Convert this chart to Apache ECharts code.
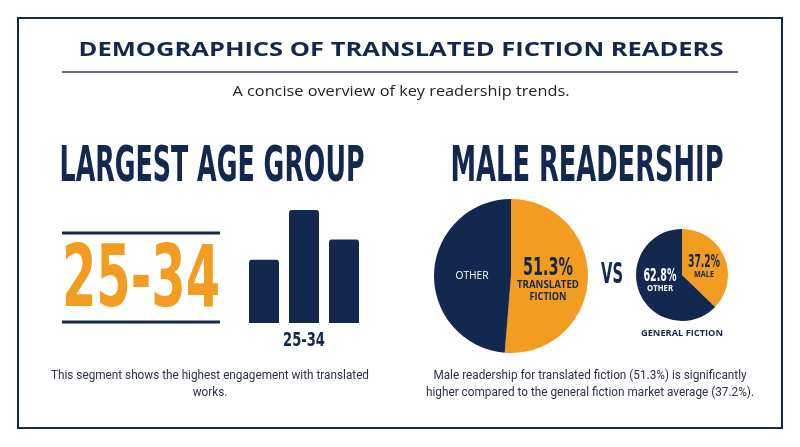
<!DOCTYPE html>
<html>
<head>
<meta charset="UTF-8">
<script src="https://cdn.jsdelivr.net/npm/echarts@6.0.0/dist/echarts.min.js"></script>
<style>
html, body { margin:0; padding:0; background:#fff; }
#chart { width:800px; height:447px; }
</style>
</head>
<body>
<div id="chart"></div>
<script>
// data
const ageGroups = ['18-24', '25-34', '35-44'];
const engagement = [56, 100, 74];
const topGroup = '25-34';
const translatedShare = [51.3, 48.7];   // male, other
const generalShare = [37.2, 62.8];      // male, other

const NAVY = '#12284f';
const ORANGE = '#f29c22';
const COND = "'Liberation Sans Narrow', 'DejaVu Sans Condensed', Roboto, sans-serif";
const WIDE = "'Open Sans', 'Noto Sans', sans-serif";

// no condensed face is installed, so squeeze a line of text to its width in the reference
const ctx = document.createElement('canvas').getContext('2d');
function fit(text, font, width) {
  ctx.font = font;
  return width / ctx.measureText(text).width;
}

function txt(text, x, y, font, fill, width, scale) {
  return {
    type: 'text', x: x, y: y, z: 50, silent: true,
    scaleX: scale || (width ? fit(text, font, width) : 1),
    style: { text: text, font: font, fill: fill, textAlign: 'center', textVerticalAlign: 'middle' }
  };
}

const pct = v => v + '%';
const titleFont = 'bold 20px ' + WIDE;
const headFont = 'bold 50px ' + COND;
const bodyFont = '13px Roboto, sans-serif';
const leftNote = ['This segment shows the highest engagement with translated', 'works.'];
const rightNote = ['Male readership for translated fiction (51.3%) is significantly',
  'higher compared to the general fiction market average (37.2%).'];
const leftScale = fit(leftNote[0], bodyFont, 318);
const rightScale = fit(rightNote[1], bodyFont, 328);

function graphics(barLabelX) {
  const g = [
    { type: 'rect', shape: { x: 18, y: 18, width: 764, height: 410 },
      style: { fill: 'none', stroke: NAVY, lineWidth: 2 } },
    txt('DEMOGRAPHICS OF TRANSLATED FICTION READERS', 401, 50, titleFont, NAVY, 645),
    { type: 'line', shape: { x1: 62, y1: 72, x2: 738, y2: 72 },
      style: { stroke: '#33425f', lineWidth: 1.5 } },
    txt('A concise overview of key readership trends.', 401, 92, '15px ' + WIDE, '#222', 337),
    txt('LARGEST AGE GROUP', 212, 168, headFont, NAVY, 305),
    txt('MALE READERSHIP', 587, 168, headFont, NAVY, 273),
    { type: 'line', shape: { x1: 62, y1: 233, x2: 220, y2: 233 },
      style: { stroke: NAVY, lineWidth: 3 } },
    txt(topGroup, 141, 284, 'bold 86px ' + COND, ORANGE, 158),
    { type: 'line', shape: { x1: 62, y1: 322, x2: 220, y2: 322 },
      style: { stroke: NAVY, lineWidth: 3 } },
    // translated fiction pie labels
    txt('OTHER', 472, 276, '10px ' + WIDE, '#fff', 33),
    txt(pct(translatedShare[0]), 548, 268, 'bold 25px ' + COND, NAVY, 50),
    txt('TRANSLATED', 548, 285, 'bold 10.5px ' + WIDE, NAVY, 62),
    txt('FICTION', 548, 297, 'bold 10.5px ' + WIDE, NAVY, 37),
    txt('VS', 612, 276, 'bold 28px ' + COND, NAVY, 22),
    // general fiction pie labels
    txt(pct(generalShare[0]), 704, 263, 'bold 17px ' + COND, NAVY, 32),
    txt('MALE', 704, 275, 'bold 8.5px ' + WIDE, NAVY, 20),
    txt(pct(generalShare[1]), 660, 277, 'bold 17px ' + COND, '#fff', 33),
    txt('OTHER', 660, 289, 'bold 8.5px ' + WIDE, '#fff', 26),
    txt('GENERAL FICTION', 682, 333, 'bold 9.5px ' + WIDE, NAVY, 82),
    txt(leftNote[0], 210, 376, bodyFont, '#2b3345', 0, leftScale),
    txt(leftNote[1], 210, 393, bodyFont, '#2b3345', 0, leftScale),
    txt(rightNote[0], 590, 376, bodyFont, '#2b3345', 0, rightScale),
    txt(rightNote[1], 590, 393, bodyFont, '#2b3345', 0, rightScale)
  ];
  if (barLabelX != null) g.push(txt(topGroup, barLabelX, 341, 'bold 20px ' + COND, NAVY, 42));
  return g;
}

const chart = echarts.init(document.getElementById('chart'));
chart.setOption({
  animation: false,
  backgroundColor: '#fff',
  graphic: graphics(null),
  grid: { left: 244, top: 210, width: 120, height: 113 },
  xAxis: {
    type: 'category', data: ageGroups,
    axisLine: { show: false }, axisTick: { show: false }, axisLabel: { show: false }
  },
  yAxis: { type: 'value', min: 0, max: 'dataMax', show: false, splitLine: { show: false } },
  series: [
    {
      type: 'bar', data: engagement, barWidth: 30, silent: true,
      itemStyle: { color: NAVY, borderRadius: [3, 3, 0, 0] }
    },
    {
      type: 'pie', center: [511, 276], radius: 77, silent: true,
      label: { show: false }, labelLine: { show: false },
      data: [
        { name: 'Male', value: translatedShare[0], itemStyle: { color: ORANGE } },
        { name: 'Other', value: translatedShare[1], itemStyle: { color: NAVY } }
      ]
    },
    {
      type: 'pie', center: [682, 275], radius: 46, silent: true,
      label: { show: false }, labelLine: { show: false },
      data: [
        { name: 'Male', value: generalShare[0], itemStyle: { color: ORANGE } },
        { name: 'Other', value: generalShare[1], itemStyle: { color: NAVY } }
      ]
    }
  ]
});

// label the largest group under its own bar, placed through the category scale
const barX = chart.convertToPixel({ xAxisIndex: 0, yAxisIndex: 0 }, [topGroup, 0])[0];
chart.setOption({ graphic: graphics(barX) });
</script>
</body>
</html>
